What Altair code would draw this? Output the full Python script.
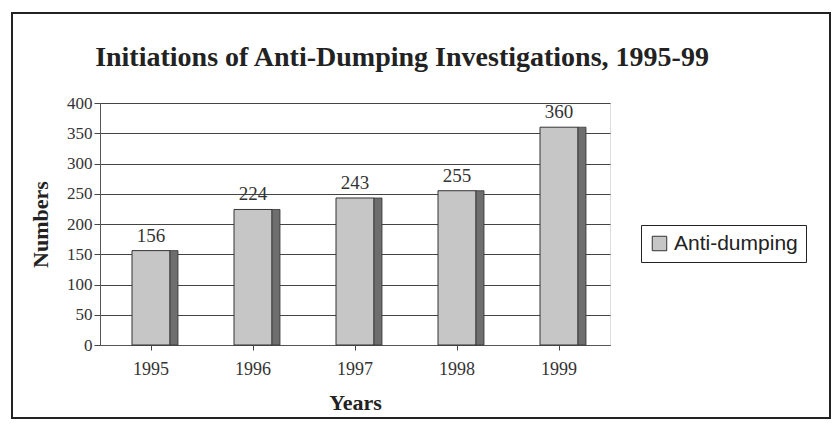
import altair as alt
import pandas as pd

years = ["1995", "1996", "1997", "1998", "1999"]
values = [156, 224, 243, 255, 360]
series = ["Anti-dumping"] * 5
title_text = ["Initiations of Anti-Dumping Investigations, 1995-99"]

df = pd.DataFrame({"Year": years, "Value": values, "Series": series})

serif = "Liberation Serif"
sans = "Liberation Sans"

base = alt.Chart(df)

x_enc = alt.X("Year:N", title="Years", sort=years,
              scale=alt.Scale(paddingInner=0.6, paddingOuter=0.3),
              axis=alt.Axis(labelAngle=0, labelFont=serif, labelFontSize=18, labelColor="#333",
                            labelPadding=10, tickSize=5, tickColor="#444", domainColor="#555",
                            titleFont=serif, titleFontSize=22, titleFontWeight="bold",
                            titleColor="#222", titlePadding=14))
y_enc = alt.Y("Value:Q", title="Numbers",
              scale=alt.Scale(domain=[0, 400]),
              axis=alt.Axis(values=list(range(0, 401, 50)), labelFont=serif, labelFontSize=17,
                            labelColor="#333", tickSize=6, tickColor="#444", domainColor="#555",
                            labelOverlap=False,
                            gridColor="#444", gridWidth=1.2,
                            titleFont=serif, titleFontSize=22, titleFontWeight="bold",
                            titleColor="#222", titlePadding=14))

front = base.mark_bar(size=38, stroke="#333", strokeWidth=1).encode(
    x=x_enc, y=y_enc,
    color=alt.Color("Series:N", title=None,
                    scale=alt.Scale(range=["#c6c6c6"]),
                    legend=alt.Legend(orient="none", legendX=541, legendY=122,
                                      strokeColor="#222", padding=8, fillColor="white",
                                      symbolType="square", symbolSize=210,
                                      symbolStrokeColor="#333", symbolStrokeWidth=1,
                                      labelFont=sans, labelFontSize=21, labelColor="#222"))
)
side = base.mark_bar(size=8, xOffset=23, color="#6e6e6e", stroke="#333", strokeWidth=0.8).encode(
    x=x_enc, y=y_enc
)
labels = base.mark_text(dy=-15, font=serif, fontSize=19, color="#333").encode(
    x=x_enc, y=y_enc, text="Value:Q"
)

one = alt.Chart(pd.DataFrame({"t": title_text}))
frame = one.mark_rect(
    fill=None, stroke="#222", strokeWidth=2
).encode(x=alt.value(-88), x2=alt.value(730), y=alt.value(-90), y2=alt.value(315))
title = one.mark_text(font=serif, fontSize=28, fontWeight="bold", color="#222",
                      align="center", baseline="alphabetic").encode(
    x=alt.value(302), y=alt.value(-37), text="t:N")

chart = alt.layer(frame, front, side, labels, title).properties(
    width=510, height=242,
    padding={"left": 100, "top": 103, "right": 224, "bottom": 82},
    autosize=alt.AutoSizeParams(type="none"),
).configure_view(fill="#dedede", stroke="#777").configure(background="white")

chart.save("out.html", embed_options={"renderer": "svg", "actions": False})
